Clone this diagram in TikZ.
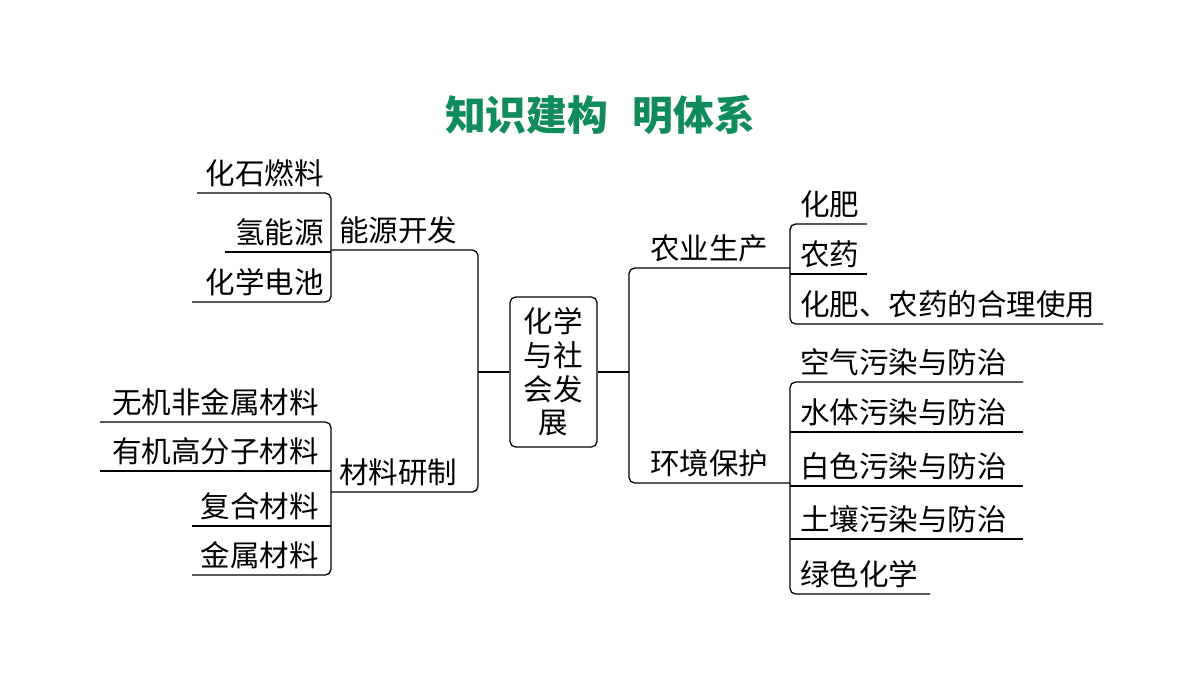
\documentclass[tikz,border=0pt]{standalone}
\usepackage{fontspec}
\setmainfont{Noto Sans CJK SC}
\definecolor{titlegreen}{RGB}{16,140,90}
\tikzset{
  item/.style={inner sep=2pt, font=\fontsize{21}{25}\selectfont},
  bracket/.style={line width=0.9pt, rounded corners=4},
}
\begin{document}
\begin{tikzpicture}[x=0.025cm,y=-0.025cm]
  \useasboundingbox (0,0) rectangle (1200,679);

  \node[font=\fontsize{29}{34}\selectfont\bfseries, text=titlegreen] (title) at (600,115) {知识建构\hspace{0.6em}明体系};

  % centre
  \node[draw, line width=0.9pt, rounded corners=4, minimum width=2.175cm, minimum height=3.75cm,
        align=center, font=\fontsize{21}{24}\selectfont] (core) at (553.5,372) {化学\\与社\\会发\\展};

  % left main bracket
  \draw[bracket] (331,250) -- (478,250) -- (478,492) -- (331,492);
  \draw[bracket] (core.west) -- (478,372);
  \node[item, anchor=south west] (energy) at (336,247) {能源开发};
  \node[item, anchor=south west] (material) at (336,489) {材料研制};

  % energy items
  \draw[bracket] (197,193) -- (331,193) -- (331,302) -- (192,302);
  \draw[bracket] (225,252) -- (331,252);
  \node[item, anchor=south east] (fossil) at (327,190) {化石燃料};
  \node[item, anchor=south east] (hydro) at (327,249) {氢能源};
  \node[item, anchor=south east] (cell) at (327,299) {化学电池};

  % material items
  \draw[bracket] (100,422) -- (331,422) -- (331,575) -- (192,575);
  \draw[bracket] (100,471) -- (331,471);
  \draw[bracket] (192,526) -- (331,526);
  \node[item, anchor=south east] (inorg) at (322,419) {无机非金属材料};
  \node[item, anchor=south east] (org) at (322,468) {有机高分子材料};
  \node[item, anchor=south east] (comp) at (322,523) {复合材料};
  \node[item, anchor=south east] (metal) at (322,572) {金属材料};

  % right main bracket
  \draw[bracket] (790,268) -- (629,268) -- (629,483) -- (790,483);
  \draw[bracket] (core.east) -- (629,372);
  \node[item, anchor=south west] (agri) at (647,265) {农业生产};
  \node[item, anchor=south west] (env) at (647,480) {环境保护};

  % agriculture items
  \draw[bracket] (867,224) -- (790,224) -- (790,324) -- (1103,324);
  \draw[bracket] (790,274) -- (867,274);
  \node[item, anchor=south west] (fert) at (797,221) {化肥};
  \node[item, anchor=south west] (pest) at (797,271) {农药};
  \node[item, anchor=south west] (use) at (797,321) {化肥、农药的合理使用};

  % environment items
  \draw[bracket] (1023,382) -- (790,382) -- (790,594) -- (930,594);
  \foreach \y in {432,486,539}
    \draw[bracket] (790,\y) -- (1023,\y);
  \node[item, anchor=south west] (air) at (797,379) {空气污染与防治};
  \node[item, anchor=south west] (water) at (797,429) {水体污染与防治};
  \node[item, anchor=south west] (white) at (797,483) {白色污染与防治};
  \node[item, anchor=south west] (soil) at (797,536) {土壤污染与防治};
  \node[item, anchor=south west] (green) at (797,591) {绿色化学};
\end{tikzpicture}
\end{document}
